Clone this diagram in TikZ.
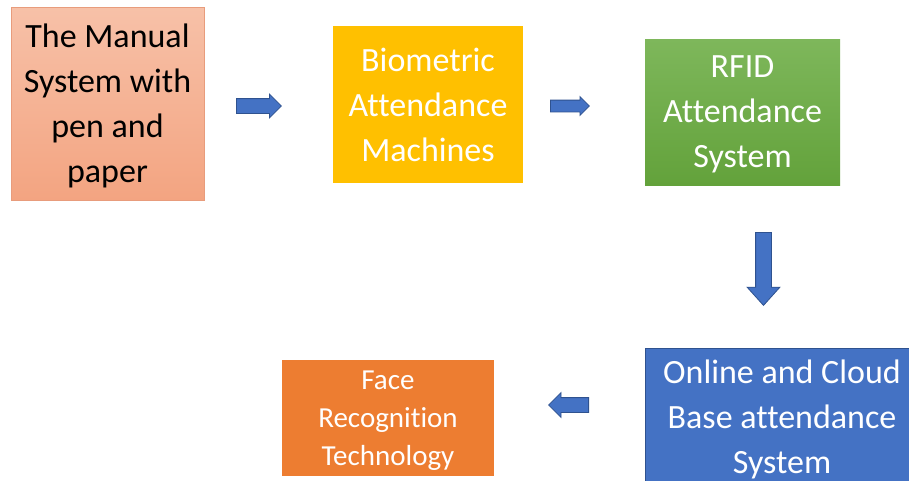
\documentclass[tikz,border=0pt]{standalone}
\usepackage{fontspec}
\setmainfont{Carlito}[Ligatures=NoCommon, RawFeature=-clig]
\usetikzlibrary{shapes.arrows}

\definecolor{salmontop}{HTML}{F7C1A8}
\definecolor{salmonbot}{HTML}{F3A481}
\definecolor{salmonline}{HTML}{E89C7C}
\definecolor{gold}{HTML}{FFC000}
\definecolor{greentop}{HTML}{7EB75B}
\definecolor{greenbot}{HTML}{63A23B}
\definecolor{officeblue}{HTML}{4472C4}
\definecolor{blueline}{HTML}{2F528F}
\definecolor{officeorange}{HTML}{ED7D31}

\begin{document}
\begin{tikzpicture}[x=1pt,y=-1pt]

      \clip (0,0) rectangle (909,480);
      \fill[white] (0,0) rectangle (909,480);

      \begin{scope}[every node/.style={rectangle, align=center, inner sep=0pt,
          text depth=0pt, font=\fontsize{34}{45}\selectfont, text=white}]
        \node[top color=salmontop, bottom color=salmonbot, draw=salmonline, text=black,
              minimum width=193pt, minimum height=193pt] (1) at (107.5,103.5)
              {The Manual\\System with\\pen and\\paper};
        \node[fill=gold, minimum width=190pt, minimum height=157pt] (2) at (428,104.5)
              {Biometric\\Attendance\\Machines};
        \node[top color=greentop, bottom color=greenbot,
              minimum width=195pt, minimum height=146pt] (3) at (742.5,112)
              {RFID\\Attendance\\System};
        \node[fill=officeblue, draw=blueline, line width=1pt,
              minimum width=274pt, minimum height=137pt] (4) at (782,416.5)
              {Online and Cloud\\Base attendance\\System};
        \node[fill=officeorange, font=\fontsize{29}{38}\selectfont,
              minimum width=212pt, minimum height=116pt] (5) at (388,418)
              {Face\\Recognition\\Technology};
      \end{scope}

      \begin{scope}[every node/.style={single arrow, fill=officeblue, draw=blueline,
          line width=0.8pt, inner xsep=0pt, single arrow head indent=0pt, anchor=tail}]
        \node[minimum height=45pt, inner ysep=7pt, single arrow head extend=4.5pt]
              (6) at (236,106) {};
        \node[minimum height=39pt, inner ysep=5.5pt, single arrow head extend=3.5pt]
              (7) at (550,106) {};
        \node[rotate=-90, minimum height=73pt, inner ysep=7.5pt,
              single arrow head extend=8.5pt, single arrow tip angle=84]
              (8) at (763.5,232) {};
        \node[rotate=180, minimum height=40pt, inner ysep=7pt,
              single arrow head extend=5pt]
              (9) at (589,405) {};
      \end{scope}

    \end{tikzpicture}
\end{document}
